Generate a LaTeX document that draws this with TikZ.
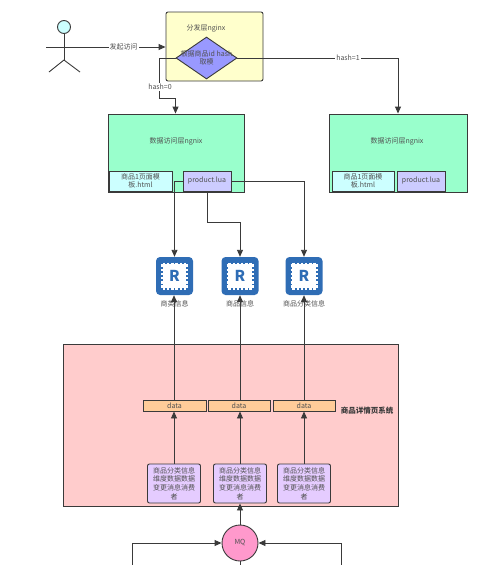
\documentclass[tikz,border=0pt]{standalone}
\usepackage{fontspec}
\setmainfont{Noto Sans CJK SC}
\usetikzlibrary{positioning, arrows.meta, shapes, calc}
\definecolor{linegray}{HTML}{3A3A3A}
\definecolor{textgray}{HTML}{505050}
\definecolor{redisblue}{HTML}{2F6DB5}
\definecolor{yellowfill}{HTML}{FFFFCC}
\definecolor{mintfill}{HTML}{99FFCC}
\definecolor{cyanfill}{HTML}{CCFFFF}
\definecolor{lilacfill}{HTML}{CCCCFF}
\definecolor{diamondfill}{HTML}{9999FF}
\definecolor{pinkfill}{HTML}{FFCCCC}
\definecolor{orangefill}{HTML}{FFCC99}
\definecolor{violetfill}{HTML}{E5CCFF}
\definecolor{mqfill}{HTML}{FF99CC}
\tikzset{
  line/.style={draw=linegray, line width=0.9pt},
  arrow/.style={line, -{Triangle[length=7pt,width=6pt]}},
  box/.style={draw=linegray, line width=0.9pt, text=textgray, font=\fontsize{7}{8.6}\selectfont, align=center, inner sep=0pt},
  lbl/.style={text=textgray, font=\fontsize{7}{8.6}\selectfont, inner sep=1pt},
  edgelbl/.style={lbl, fill=white},
}
\newcommand{\redisicon}[2]{%
  \node[draw=none, fill=redisblue, rounded corners=4pt, minimum width=37pt, minimum height=38pt, inner sep=0pt] (#1) at (#2) {};
  \foreach \i in {-10.5,-6.3,-2.1,2.1,6.3,10.5} {
    \draw[white, line width=2.4pt] ($(#1)+(\i,-13.5)$) -- ($(#1)+(\i,13.5)$);
    \draw[white, line width=2.4pt] ($(#1)+(-13.5,\i)$) -- ($(#1)+(13.5,\i)$);
  }
  \node[fill=white, minimum width=22pt, minimum height=22pt, inner sep=0pt] at (#1) {};
  \node[text=redisblue, font=\fontsize{15}{15}\selectfont\bfseries, inner sep=0pt] at (#1) {R};
}

\begin{document}
\begin{tikzpicture}[x=1pt, y=-1pt]
\useasboundingbox (0,0) rectangle (499,565);

% Actor
\node[draw=linegray, line width=0.9pt, circle, fill=cyanfill, minimum size=13pt, inner sep=0pt] (head) at (64,27) {};
\coordinate (hip) at (64,60);
\coordinate (armL) at (46,47);
\coordinate (legL) at (49,72);
\coordinate (legR) at (80,72);
\draw[line] (head) -- (hip);
\draw[line] (legL) -- (hip) -- (legR);

% Dispatch layer
\node[box, fill=yellowfill, rounded corners=2pt, minimum width=97pt, minimum height=69pt] (dispatch) at (214.5,46.5) {};
\node[lbl] (dispatchLbl) at (206,28) {分发层nginx};
\node[box, diamond, fill=diamondfill, minimum width=61pt, minimum height=42pt, aspect=1.45] (hash) at (206.5,58) {};
\node[lbl, align=center] (hashLbl) at (206.5,58) {根据商品id hash\\取模};
\draw[arrow] (armL) -- (armL -| dispatch.west) node[edgelbl, pos=0.65] (visit) {发起访问};

% Access layer
\node[box, fill=mintfill, minimum width=136pt, minimum height=78pt] (accessA) at (176,153) {};
\node[box, fill=mintfill, minimum width=138pt, minimum height=78pt] (accessB) at (398,153) {};
\node[lbl] (accessALbl) at (176,141) {数据访问层ngnix};
\node[lbl] (accessBLbl) at (397,141) {数据访问层ngnix};
\node[box, fill=cyanfill, minimum width=63pt, minimum height=20pt] (tplA) at (140.5,181) {商品1页面模\\板.html};
\node[box, fill=lilacfill, minimum width=48pt, minimum height=20pt] (luaA) at (207,181) {product.lua};
\node[box, fill=cyanfill, minimum width=62pt, minimum height=20pt] (tplB) at (363,181) {商品1页面模\\板.html};
\node[box, fill=lilacfill, minimum width=48pt, minimum height=20pt] (luaB) at (421,181) {product.lua};

% Hash routes
\coordinate (bendA) at (159,98);
\coordinate (bendB) at (175.5,98);
\draw[arrow] (hash.west) -| (bendA) -- (bendB) -- (bendB |- accessA.north);
\node[edgelbl] (hashZero) at (160,87) {hash=0};
\draw[arrow] (hash.east) -| (accessB.north);
\node[edgelbl] (hashOne) at (348,58) {hash=1};

% Redis
\redisicon{redisA}{174.5,276}
\redisicon{redisB}{240,276}
\redisicon{redisC}{304,276}
\node[lbl] (redisALbl) at (174.5,304) {商类信息};
\node[lbl] (redisBLbl) at (240,304) {商品信息};
\node[lbl] (redisCLbl) at (304,304) {商品分类信息};
\draw[arrow] (luaA.west) -| (redisA.north);
\coordinate (bendC) at (207,222);
\draw[arrow] (luaA.south -| bendC) -- (bendC) -| (redisB.north);
\draw[arrow] (luaA.east) -| (redisC.north);

% Detail page system
\node[box, fill=pinkfill, minimum width=335pt, minimum height=162pt] (detail) at (230.5,425) {};
\node[lbl, font=\fontsize{7.5}{8}\selectfont\bfseries, text=linegray] (detailLbl) at (367,411) {商品详情页系统};
\node[box, fill=orangefill, minimum width=63pt, minimum height=11pt] (dataA) at (174.5,405.5) {data};
\node[box, fill=orangefill, minimum width=62pt, minimum height=11pt] (dataB) at (239,405.5) {data};
\node[box, fill=orangefill, minimum width=62pt, minimum height=11pt] (dataC) at (304,405.5) {data};
\foreach \c/\x in {A/174, B/240, C/304} {
  \node[box, fill=violetfill, rounded corners=2pt, minimum width=53pt, minimum height=39pt] (cons\c) at (\x,483.5) {商品分类信息\\维度数据数据\\变更消息消费\\者};
  \draw[arrow] (cons\c.north) -- (cons\c.north |- data\c.south);
  \draw[arrow] (cons\c.north |- data\c.north) -- (cons\c.north |- redis\c.south);
}

% MQ
\node[box, circle, fill=mqfill, minimum size=36pt] (mq) at (240,543) {MQ};
\draw[arrow] (mq.north) -- (consB.south);
\coordinate (mqL) at (132,566);
\coordinate (mqR) at (341,566);
\coordinate (mqD) at (240,566);
\draw[arrow] (mqL) |- (mq.west);
\draw[arrow] (mqR) |- (mq.east);
\draw[line] (mq.south) -- (mqD);
\end{tikzpicture}
\end{document}
